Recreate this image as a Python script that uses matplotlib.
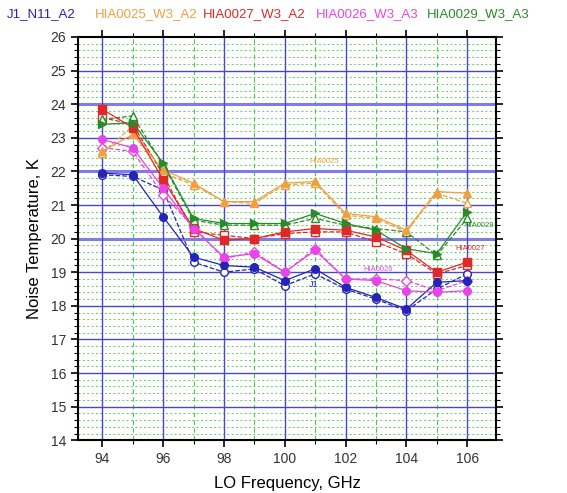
import matplotlib
matplotlib.use("Agg")
import matplotlib.pyplot as plt
import numpy as np

plt.rcParams['font.family'] = ['Liberation Sans', 'DejaVu Sans']

freq = [94, 95, 96, 97, 98, 99, 100, 101, 102, 103, 104, 105, 106]

# J1_N11_A2
j1_a = [21.95, 21.9, 20.65, 19.45, 19.2, 19.15, 18.75, 19.1, 18.55, 18.25, 17.9, 18.7, 18.75]
j1_b = [21.9, 21.85, 21.45, 19.3, 19.0, 19.1, 18.6, 18.95, 18.5, 18.2, 17.85, 18.5, 18.95]
# HIA0025_W3_A2
h25_a = [22.6, 23.1, 22.05, 21.65, 21.1, 21.1, 21.65, 21.7, 20.75, 20.65, 20.25, 21.4, 21.35]
h25_b = [22.55, 23.35, 21.95, 21.6, 21.1, 21.05, 21.6, 21.65, 20.7, 20.6, 20.2, 21.35, 21.05]
# HIA0027_W3_A2
h27_a = [23.85, 23.3, 21.75, 20.3, 19.95, 20.0, 20.2, 20.3, 20.25, 20.05, 19.65, 19.0, 19.3]
h27_b = [23.6, 23.4, 21.9, 20.2, 20.1, 20.0, 20.15, 20.2, 20.2, 19.9, 19.55, 18.95, 19.2]
# HIA0026_W3_A3
h26_a = [22.95, 22.7, 21.5, 20.3, 19.45, 19.55, 19.0, 19.65, 18.8, 18.75, 18.45, 18.4, 18.45]
h26_b = [22.7, 22.6, 21.3, 20.35, 19.4, 19.6, 19.0, 19.7, 18.8, 18.8, 18.75, 18.45, 18.75]
# HIA0029_W3_A3
h29_a = [23.4, 23.45, 22.25, 20.6, 20.45, 20.45, 20.45, 20.75, 20.45, 20.25, 19.7, 19.55, 20.8]
h29_b = [23.55, 23.65, 22.2, 20.55, 20.4, 20.4, 20.4, 20.6, 20.4, 20.3, 20.2, 19.5, 20.6]

names = ["J1_N11_A2", "HIA0025_W3_A2", "HIA0027_W3_A2", "HIA0026_W3_A3", "HIA0029_W3_A3"]
colors = ["#2424b8", "#f0a040", "#e02828", "#e844e8", "#2a8a2a"]

fig = plt.figure(figsize=(5.67, 4.93), dpi=100)
ax = fig.add_axes([0.1376, 0.107, 0.7372, 0.818])

# grid
for y in np.arange(14, 26.01, 0.2):
    if abs(y - round(y)) > 0.01:
        ax.axhline(y, color="#5cd65c", lw=0.7, ls=(0, (2, 2.5)), zorder=0)
for x in [95, 97, 99, 101, 103, 105]:
    ax.axvline(x, color="#44cc44", lw=0.8, ls=(0, (4, 3)), zorder=0)
for y in range(15, 26):
    if y in (20, 22, 24):
        ax.axhline(y, color="#7d7de8", lw=2.2, zorder=0.5)
    else:
        ax.axhline(y, color="#4848cc", lw=1.0, zorder=0.5)
for x in range(94, 107, 2):
    ax.axvline(x, color="#4848cc", lw=1.0, zorder=0.5)

mk = dict(ms=5.5, lw=0.9)
series = [
    (j1_a, j1_b, "o", "o"),
    (h25_a, h25_b, "^", "^"),
    (h27_a, h27_b, "s", "s"),
    (h26_a, h26_b, "o", "D"),
    (h29_a, h29_b, ">", "^"),
]
for (a, b, m1, m2), c in zip(series, colors):
    ax.plot(freq, b, color=c, marker=m2, mfc="white", mec=c, ls="--", **mk, zorder=3)
    ax.plot(freq, a, color=c, marker=m1, mfc=c, mec=c, ls="-", **mk, zorder=4)

# in-plot labels
ax.text(100.8, 22.25, "HIA0025", color=colors[1], fontsize=5.5)
ax.text(105.9, 20.35, "HIA0029", color=colors[4], fontsize=5.5)
ax.text(105.6, 19.65, "HIA0027", color=colors[2], fontsize=5.5)
ax.text(102.6, 19.05, "HIA0026", color=colors[3], fontsize=5.5)
ax.text(100.8, 18.55, "J1", color=colors[0], fontsize=6.5)

ax.set_xlim(93.2, 106.95)
ax.set_ylim(14, 26)
ax.set_xticks(range(94, 107, 2))
ax.set_xticks(range(94, 107), minor=True)
ax.set_yticks(range(14, 27))
ax.set_yticks(np.arange(14, 26.01, 0.2), minor=True)
ax.tick_params(axis="both", which="major", direction="out", length=5, width=1.2,
               labelsize=10, labelcolor="#333333")
ax.tick_params(axis="both", which="minor", direction="out", length=3, width=0.8)
ax.tick_params(top=True, right=True, which="both")
for s in ax.spines.values():
    s.set_linewidth(1.5)

ax.set_xlabel("LO Frequency, GHz", fontsize=12, labelpad=7)
ax.set_ylabel("Noise Temperature, K", fontsize=12, labelpad=6)

# coloured title row
xs = [0.012, 0.168, 0.358, 0.557, 0.752]
for xx, n, c in zip(xs, names, colors):
    fig.text(xx, 0.972, n, color=c, fontsize=9.5, ha="left", va="center")

fig.savefig("out.png", dpi=100)
